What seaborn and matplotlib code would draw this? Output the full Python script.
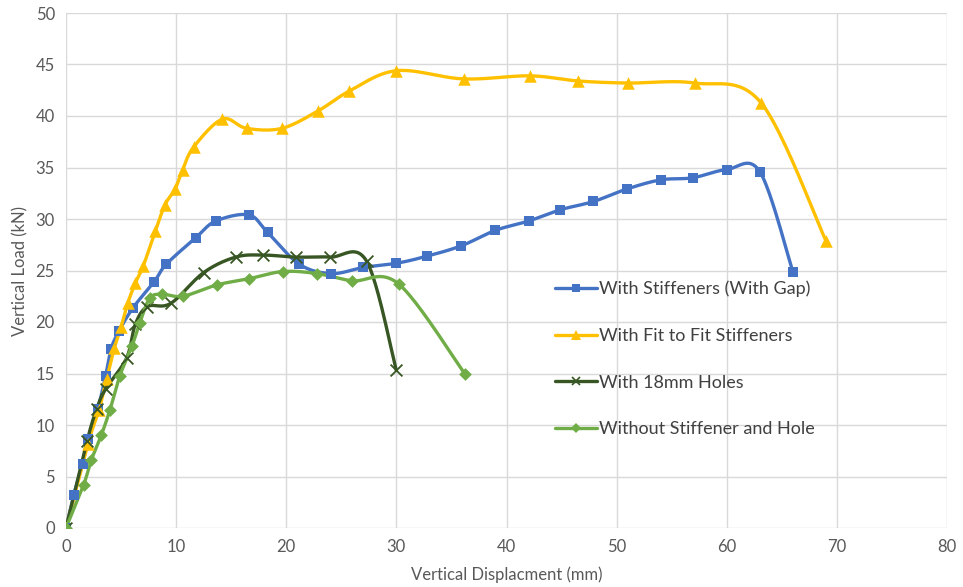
import numpy as np
import pandas as pd
import matplotlib
matplotlib.use("Agg")
import matplotlib.pyplot as plt
import seaborn as sns
from matplotlib.lines import Line2D

# ---- data ----
gap_x = [0, 0.7, 1.5, 2.0, 2.9, 3.6, 4.1, 4.8, 6.1, 8.0, 9.1, 11.8, 13.6, 16.6, 18.3, 21.2, 24.1, 27.0,
         30.0, 32.8, 35.9, 39.0, 42.0, 44.9, 47.9, 50.9, 54.0, 56.9, 60.0, 63.0, 66.0]
gap_y = [0, 3.2, 6.2, 8.6, 11.6, 14.8, 17.4, 19.1, 21.4, 23.9, 25.6, 28.2, 29.8, 30.4, 28.7, 25.6, 24.7, 25.3,
         25.7, 26.4, 27.4, 28.9, 29.8, 30.9, 31.7, 32.9, 33.8, 34.0, 34.8, 34.6, 24.9]

fit_x = [0, 2.0, 3.0, 3.7, 4.4, 5.0, 5.6, 6.3, 7.0, 8.1, 9.0, 9.9, 10.6, 11.6, 14.2, 16.4, 19.6, 22.9,
         25.7, 30.0, 36.1, 42.1, 46.5, 51.0, 57.1, 63.1, 69.0]
fit_y = [0, 8.2, 11.5, 14.5, 17.5, 19.5, 21.8, 23.8, 25.4, 28.8, 31.4, 32.9, 34.8, 37.0, 39.7, 38.8, 38.8, 40.5,
         42.4, 44.4, 43.6, 43.9, 43.4, 43.2, 43.2, 41.3, 27.9]

holes_x = [0, 1.9, 2.8, 3.6, 5.5, 6.3, 7.4, 9.5, 12.5, 15.4, 17.9, 20.9, 24.0, 27.3, 30.0]
holes_y = [0, 8.4, 11.6, 13.5, 16.5, 19.8, 21.5, 21.8, 24.8, 26.3, 26.5, 26.3, 26.3, 25.9, 15.3]

plain_x = [0, 1.6, 2.3, 3.2, 4.0, 4.9, 6.0, 6.7, 7.6, 8.7, 10.6, 13.7, 16.6, 19.7, 22.8, 26.0, 30.2, 36.2]
plain_y = [0, 4.2, 6.6, 9.0, 11.5, 14.8, 17.7, 19.9, 22.3, 22.7, 22.5, 23.6, 24.2, 24.9, 24.7, 24.0, 23.7, 15.0]

labels = ["With Stiffeners (With Gap)", "With Fit to Fit Stiffeners", "With 18mm Holes",
          "Without Stiffener and Hole"]
x_ticks = [0, 10, 20, 30, 40, 50, 60, 70, 80]
y_ticks = [0, 5, 10, 15, 20, 25, 30, 35, 40, 45, 50]


def smooth(xs, ys, n=24):
    pts = np.column_stack([xs, ys]).astype(float)
    out = []
    for i in range(len(pts) - 1):
        p0 = pts[i - 1] if i > 0 else pts[i]
        p1 = pts[i]
        p2 = pts[i + 1]
        p3 = pts[i + 2] if i + 2 < len(pts) else pts[i + 1]
        c1 = p1 + (p2 - p0) / 6.0
        c2 = p2 - (p3 - p1) / 6.0
        t = np.linspace(0, 1, n)[:, None]
        seg = (1 - t) ** 3 * p1 + 3 * (1 - t) ** 2 * t * c1 + 3 * (1 - t) * t ** 2 * c2 + t ** 3 * p2
        out.append(seg if i == 0 else seg[1:])
    return np.vstack(out)


sns.set_theme(style="white")
plt.rcParams['font.family'] = ['Lato', 'DejaVu Sans']

fig = plt.figure(figsize=(9.63, 5.87), dpi=100)
ax = fig.add_axes([66 / 963, 1 - 528 / 587, (947 - 66) / 963, (528 - 13) / 587])

series = [
    (gap_x, gap_y, "#4472C4", "s", 7.5, labels[0]),
    (fit_x, fit_y, "#FFC000", "^", 9, labels[1]),
    (holes_x, holes_y, "#375623", "x", 8.5, labels[2]),
    (plain_x, plain_y, "#70AD47", "D", 6.5, labels[3]),
]

handles = []
for xs, ys, col, mk, ms, lab in series:
    sm = smooth(xs, ys)
    df = pd.DataFrame({"x": sm[:, 0], "y": sm[:, 1]})
    sns.lineplot(data=df, x="x", y="y", sort=False, estimator=None, color=col, lw=2.4, ax=ax, zorder=3)
    pdf = pd.DataFrame({"x": xs, "y": ys})
    if mk == "x":
        sns.scatterplot(data=pdf, x="x", y="y", marker="x", s=ms ** 2, color=col, linewidth=1.3, ax=ax, zorder=4)
    else:
        sns.scatterplot(data=pdf, x="x", y="y", marker=mk, s=ms ** 2, color=col, edgecolor=col, linewidth=0,
                        ax=ax, zorder=4)
    handles.append(Line2D([0], [0], color=col, lw=2.4, marker=mk, markersize=ms * 0.75,
                          markeredgewidth=1.2 if mk == "x" else 0, label=lab))

ax.set_xlim(0, 80)
ax.set_ylim(0, 50)
ax.set_xticks(x_ticks)
ax.set_yticks(y_ticks)
ax.grid(True, color="#D9D9D9", lw=1.0)
ax.set_axisbelow(True)
for s in ax.spines.values():
    s.set_visible(False)
ax.tick_params(axis="both", length=0, labelsize=12, colors="#595959", pad=8)
ax.set_xlabel("Vertical Displacment (mm)", fontsize=12, color="#595959", labelpad=8)
ax.set_ylabel("Vertical Load (kN)", fontsize=12, color="#595959", labelpad=5)

leg = ax.legend(handles=handles, loc="upper left", bbox_to_anchor=(0.537, 0.512), frameon=False,
                fontsize=13, labelspacing=1.7, handlelength=2.3, handletextpad=0.1)
for t in leg.get_texts():
    t.set_color("#404040")

fig.savefig("out.png", dpi=100)
